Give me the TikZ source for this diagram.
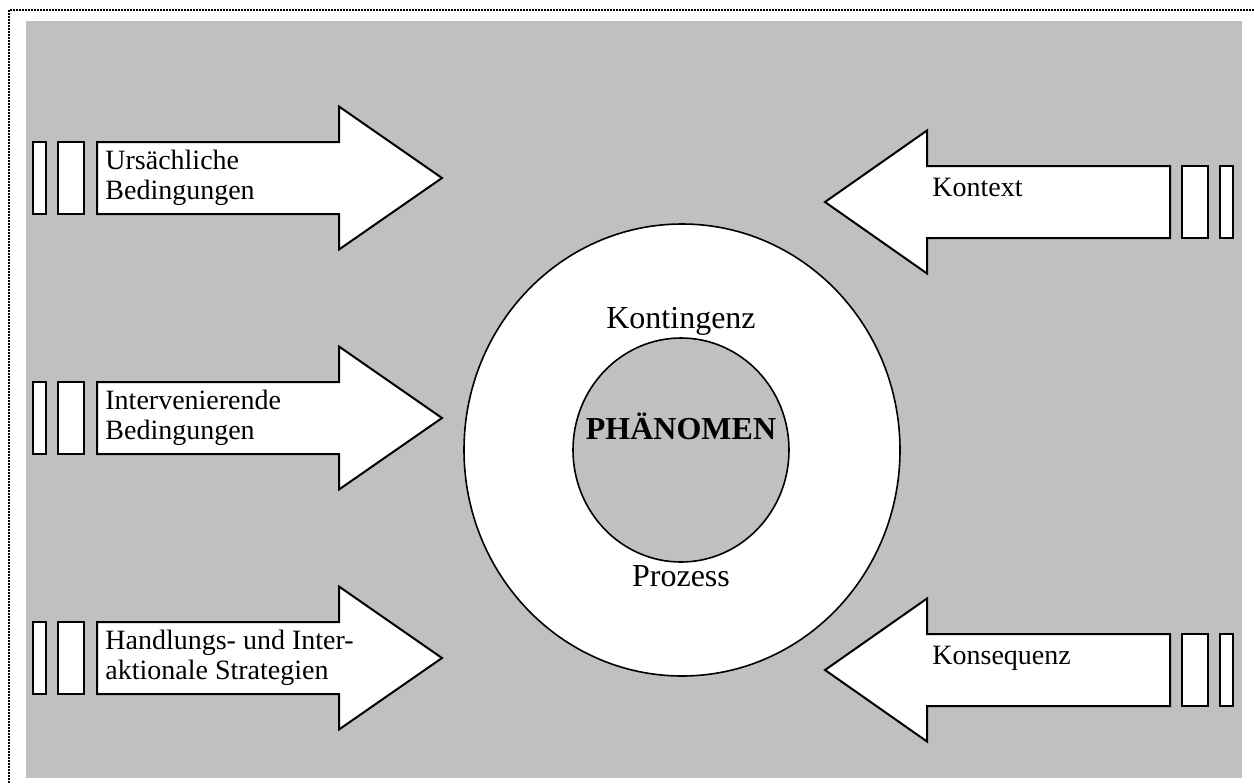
\documentclass[tikz,border=0pt]{standalone}
\usepackage{fontspec}
\setmainfont{Liberation Serif}
\usetikzlibrary{shapes.geometric,positioning}
\definecolor{panegray}{RGB}{192,192,192}

\begin{document}
\begin{tikzpicture}[x=0.5pt,y=-0.5pt]
    \tikzstyle{pane}=[fill=panegray]
    \tikzstyle{block}=[draw,fill=white,line width=1pt,line join=miter]
    \tikzstyle{lbl}=[font=\fontsize{14}{15}\selectfont,align=left,inner sep=0pt]
    \tikzstyle{ring}=[ellipse,draw,line width=0.8pt,inner sep=0pt]
    \tikzstyle{big}=[font=\fontsize{16}{19}\selectfont,inner sep=0pt]

    \useasboundingbox (0,0) rectangle (1254,783);
    \draw[line width=0.9pt,dash pattern=on 0.9pt off 0.6pt] (9,783) -- (9,10) -- (1254,10);
    \fill[pane] (26,21) rectangle (1242,778);

    % arrows pointing in from the left
    \begin{scope}[shift={(0,178)}]
        \draw[block] (33,-36) rectangle (46,36);
        \draw[block] (58,-36) rectangle (84,36);
        \draw[block] (97,-36) -- (339,-36) -- (339,-71.5) -- (442,0) -- (339,71.5) -- (339,36) -- (97,36) -- cycle;
        \node[lbl,anchor=west] (cause) at (105,0) {Ursächliche\\Bedingungen};
    \end{scope}
    \begin{scope}[shift={(0,418)}]
        \draw[block] (33,-36) rectangle (46,36);
        \draw[block] (58,-36) rectangle (84,36);
        \draw[block] (97,-36) -- (339,-36) -- (339,-71.5) -- (442,0) -- (339,71.5) -- (339,36) -- (97,36) -- cycle;
        \node[lbl,anchor=west] (interv) at (105,0) {Intervenierende\\Bedingungen};
    \end{scope}
    \begin{scope}[shift={(0,658)}]
        \draw[block] (33,-36) rectangle (46,36);
        \draw[block] (58,-36) rectangle (84,36);
        \draw[block] (97,-36) -- (339,-36) -- (339,-71.5) -- (442,0) -- (339,71.5) -- (339,36) -- (97,36) -- cycle;
        \node[lbl,anchor=west] (strat) at (105,0) {Handlungs- und Inter-\\aktionale Strategien};
    \end{scope}

    % arrows pointing in from the right
    \begin{scope}[shift={(0,202)}]
        \draw[block] (1220,-36) rectangle (1233,36);
        \draw[block] (1182,-36) rectangle (1208,36);
        \draw[block] (1170,-36) -- (927,-36) -- (927,-71.5) -- (825,0) -- (927,71.5) -- (927,36) -- (1170,36) -- cycle;
        \node[lbl,anchor=base west] (context) at (932,-6) {Kontext};
    \end{scope}
    \begin{scope}[shift={(0,670)}]
        \draw[block] (1220,-36) rectangle (1233,36);
        \draw[block] (1182,-36) rectangle (1208,36);
        \draw[block] (1170,-36) -- (927,-36) -- (927,-71.5) -- (825,0) -- (927,71.5) -- (927,36) -- (1170,36) -- cycle;
        \node[lbl,anchor=base west] (conseq) at (932,-6) {Konsequenz};
    \end{scope}

    % phenomenon in the middle
    \node[ring,fill=white,minimum width=218pt,minimum height=226pt] (outer) at (682,450) {};
    \node[ring,pane,minimum width=108pt,minimum height=112pt] (core) at (681,450) {};
    \node[big,anchor=base] (conting) at (681,328) {Kontingenz};
    \node[big,anchor=base,font=\fontsize{16}{19}\selectfont\bfseries] (phen) at (681,439) {PHÄNOMEN};
    \node[big,anchor=base] (process) at (681,586) {Prozess};
\end{tikzpicture}
\end{document}
